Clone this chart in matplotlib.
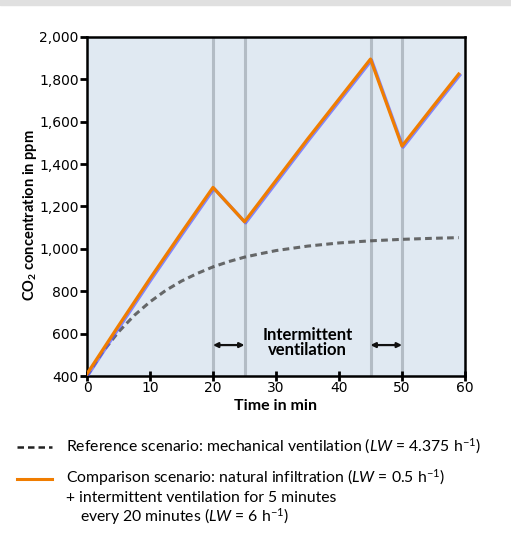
import matplotlib
matplotlib.use("Agg")
import matplotlib.pyplot as plt
import matplotlib.patheffects as pe
from matplotlib.patches import Rectangle
from matplotlib.lines import Line2D

# ---- data ----
ref_t = [0, 2.5, 5, 7.5, 10, 12.5, 15, 17.5, 20, 22.5, 25, 27.5, 30, 35, 40, 45, 50, 55, 59]
ref_c = [400, 514, 608, 686, 750, 804, 848, 884, 915, 940, 961, 977, 992, 1013, 1028, 1038, 1045, 1050, 1053]

cmp_t = [0, 5, 10, 15, 20, 25, 35, 45, 50, 55, 59]
cmp_c = [410, 637, 860, 1077, 1290, 1128, 1518, 1896, 1485, 1675, 1825]

vent_starts = [20, 45]
vent_ends = [25, 50]

x_ticks = [0, 10, 20, 30, 40, 50, 60]
y_ticks = [400, 600, 800, 1000, 1200, 1400, 1600, 1800, 2000]

plt.rcParams['mathtext.fontset'] = 'custom'
plt.rcParams['mathtext.rm'] = 'Lato'
plt.rcParams['mathtext.it'] = 'Lato:italic'
plt.rcParams['mathtext.bf'] = 'Lato:bold'

W, H = 511, 535
fig = plt.figure(figsize=(W / 100, H / 100), dpi=100)
fig.patches.append(Rectangle((0, 1 - 5 / H), 1, 5 / H, transform=fig.transFigure,
                             color='#e0e0e0', zorder=0))

ax = fig.add_axes([87 / W, 1 - 376 / H, (465 - 87) / W, (376 - 37) / H])
ax.set_facecolor('#e0e9f2')
ax.set_xlim(0, 60)
ax.set_ylim(400, 2000)

for v in vent_starts + vent_ends:
    ax.axvline(v, color='#b3bcc5', lw=2.2, zorder=1)

ax.plot(ref_t, ref_c, color='#505050', lw=2.2, dashes=(2.2, 1.4), alpha=0.85, zorder=2)
ax.plot(cmp_t, cmp_c, color='#f07d00', lw=2.3, zorder=3,
        path_effects=[pe.SimpleLineShadow(offset=(0.8, -0.8), shadow_color='#5a5aff', alpha=0.7, rho=1),
                      pe.Normal()])

for a, b in zip(vent_starts, vent_ends):
    ax.annotate('', xy=(a, 546), xytext=(b, 546),
                arrowprops=dict(arrowstyle='<|-|>', color='#111111', lw=1.6,
                                mutation_scale=7, shrinkA=0, shrinkB=0))
ax.text(35, 557, 'Intermittent\nventilation', ha='center', va='center',
        fontsize=12, fontweight='bold', family='Lato', linespacing=0.95)

ax.set_xticks(x_ticks)
ax.set_yticks(y_ticks)
ax.set_xticklabels([str(t) for t in x_ticks], fontsize=10, family='DejaVu Sans')
ax.set_yticklabels([f"{v:,}" for v in y_ticks], fontsize=10, family='DejaVu Sans')
ax.tick_params(axis='y', direction='out', length=5, width=2, pad=1)
ax.tick_params(axis='x', direction='inout', length=7, width=2, pad=0)
for s in ax.spines.values():
    s.set_linewidth(1.8)
    s.set_color('black')

ax.set_xlabel('Time in min', fontsize=11.5, fontweight='bold', family='Lato', labelpad=3)
ax.set_ylabel(r'CO$_\mathbf{2}$ concentration in ppm', fontsize=10.5, fontweight='bold',
              family='Lato', labelpad=3)
ax.yaxis.set_label_coords(-0.128, 0.475)

# ---- legend ----
fy = lambda py: 1 - py / H
fx = lambda px: px / W
fig.add_artist(Line2D([fx(17), fx(52)], [fy(447), fy(447)], color='#222222', lw=1.8,
                      dashes=(2.6, 1.6)))
fig.add_artist(Line2D([fx(17), fx(52)], [fy(479), fy(479)], color='#f07d00', lw=2.2))
fs = 11.3
fig.text(fx(66), fy(451.5), r'Reference scenario: mechanical ventilation ($\mathit{LW}$ = 4.375 h$^{-1}$)',
         fontsize=fs, family='Lato', va='baseline')
fig.text(fx(66), fy(482.5), r'Comparison scenario: natural infiltration ($\mathit{LW}$ = 0.5 h$^{-1}$)',
         fontsize=fs, family='Lato', va='baseline')
fig.text(fx(66), fy(502), '+ intermittent ventilation for 5 minutes',
         fontsize=fs, family='Lato', va='baseline')
fig.text(fx(80), fy(522), r'every 20 minutes ($\mathit{LW}$ = 6 h$^{-1}$)',
         fontsize=fs, family='Lato', va='baseline')

fig.savefig('out.png', dpi=100)
